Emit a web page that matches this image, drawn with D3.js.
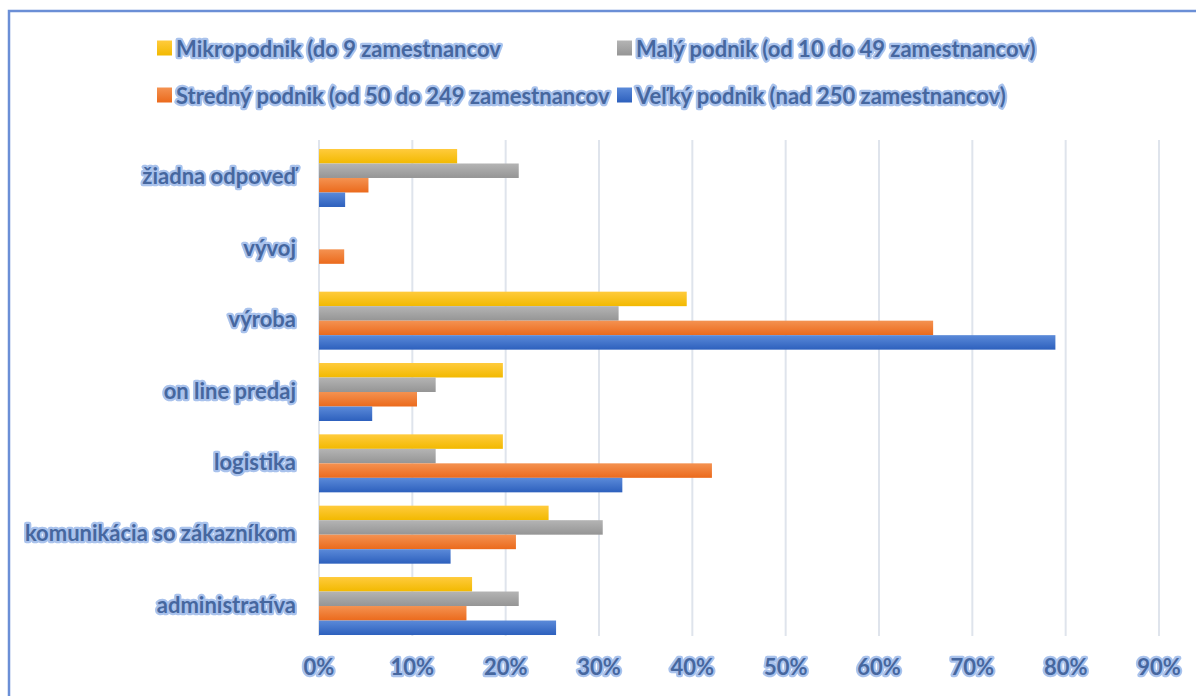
<!DOCTYPE html>
<html>
<head>
<meta charset="utf-8">
<script src="https://cdn.jsdelivr.net/npm/d3@7/dist/d3.min.js"></script>
<style>
  html, body { margin: 0; padding: 0; background: #fff; }
  svg text { font-family: "Lato", "Open Sans", sans-serif; font-weight: 700; }
</style>
</head>
<body>
<svg id="chart" width="1196" height="696"></svg>
<script>
// Categories, top to bottom as drawn
const categories = [
  "žiadna odpoveď",
  "vývoj",
  "výroba",
  "on line predaj",
  "logistika",
  "komunikácia so zákazníkom",
  "administratíva"
];

const seriesNames = [
  "Mikropodnik (do 9 zamestnancov",
  "Malý podnik (od 10 do 49 zamestnancov)",
  "Stredný podnik (od 50 do 249 zamestnancov",
  "Veľký podnik (nad 250 zamestnancov)"
];

// Shares (%) per category, same order as categories
const mikro  = [14.8, 0,   39.4, 19.7, 19.7, 24.6, 16.4];
const maly   = [21.4, 0,   32.1, 12.5, 12.5, 30.4, 21.4];
const stredny= [5.3,  2.7, 65.8, 10.5, 42.1, 21.1, 15.8];
const velky  = [2.8,  0,   78.9, 5.7,  32.5, 14.1, 25.4];

const ticks = [0, 10, 20, 30, 40, 50, 60, 70, 80, 90];

const seriesValues = [mikro, maly, stredny, velky];
const colors = [
  ["#ffcb3d", "#f2b900"],
  ["#b4b4b4", "#959595"],
  ["#f49251", "#eb6a1c"],
  ["#5b8ad9", "#2d60bd"]
];

const svg = d3.select("#chart");
const W = 1196, H = 696;
const plotTop = 140, plotBottom = 636;

const defs = svg.append("defs");
colors.forEach((c, i) => {
  const g = defs.append("linearGradient").attr("id", "g" + i)
    .attr("x1", 0).attr("y1", 0).attr("x2", 0).attr("y2", 1);
  g.append("stop").attr("offset", "0%").attr("stop-color", c[0]);
  g.append("stop").attr("offset", "100%").attr("stop-color", c[1]);
});

// Soft glow behind the labels
const glow = defs.append("filter").attr("id", "glow")
  .attr("x", "-10%").attr("y", "-30%").attr("width", "120%").attr("height", "160%");
glow.append("feGaussianBlur").attr("in", "SourceGraphic").attr("stdDeviation", 0.6).attr("result", "soft");
const merge = glow.append("feMerge");
merge.append("feMergeNode").attr("in", "soft");

// Chart frame (top and left edges)
svg.append("path")
  .attr("d", `M9,${H} L9,11 L${W},11`)
  .attr("fill", "none").attr("stroke", "#6b8fd6").attr("stroke-width", 2.5);

const x = d3.scaleLinear().domain([0, 90]).range([319, 1159]);
const y = d3.scaleBand().domain(categories).range([140, 644]).paddingInner(0.187).paddingOuter(0.126);
const sub = d3.scaleBand().domain(d3.range(4)).range([0, y.bandwidth()]);

// Gridlines
svg.append("g").selectAll("line").data(ticks).join("line")
  .attr("x1", d => x(d)).attr("x2", d => x(d))
  .attr("y1", plotTop).attr("y2", plotBottom)
  .attr("stroke", "#dfe4ec").attr("stroke-width", 2);

// Bars
seriesValues.forEach((vals, si) => {
  svg.append("g").selectAll("rect").data(categories.map((c, i) => ({ c, v: vals[i] })))
    .join("rect")
    .attr("x", x(0))
    .attr("y", d => y(d.c) + sub(si))
    .attr("width", d => x(d.v) - x(0))
    .attr("height", sub.bandwidth())
    .attr("fill", `url(#g${si})`);
});

// Text with a light blue halo: a blurred outline layer under a crisp fill layer
function glowText(parent, attrs, str) {
  const g = parent.append("g");
  const halo = g.append("text").attr("fill", "#a9c2ec")
    .attr("stroke", "#a9c2ec").attr("stroke-width", 4.5)
    .attr("stroke-linejoin", "round").attr("filter", "url(#glow)").text(str);
  const front = g.append("text").attr("fill", "#46679f").text(str);
  Object.entries(attrs).forEach(([k, v]) => { halo.attr(k, v); front.attr(k, v); });
  return g;
}

const FS = 22;

// Category labels
const yAxis = svg.append("g");
categories.forEach(c => {
  glowText(yAxis, {
    x: 296, y: y(c) + y.bandwidth() / 2 - 2,
    "text-anchor": "end", "dominant-baseline": "central", "font-size": FS
  }, c);
});

// Value axis labels
const xAxis = svg.append("g");
ticks.forEach(t => {
  glowText(xAxis, {
    x: x(t), y: 666,
    "text-anchor": "middle", "dominant-baseline": "central", "font-size": FS
  }, t + "%");
});

// Legend
const legendPos = [[157, 48], [617, 48], [157, 95], [617, 95]];
const legend = svg.append("g");
seriesNames.forEach((n, i) => {
  const [lx, ly] = legendPos[i];
  legend.append("rect").attr("x", lx).attr("y", ly - 7.5).attr("width", 15).attr("height", 15)
    .attr("fill", `url(#g${i})`);
  glowText(legend, {
    x: lx + 19, y: ly, "dominant-baseline": "central", "font-size": FS
  }, n);
});
</script>
</body>
</html>
